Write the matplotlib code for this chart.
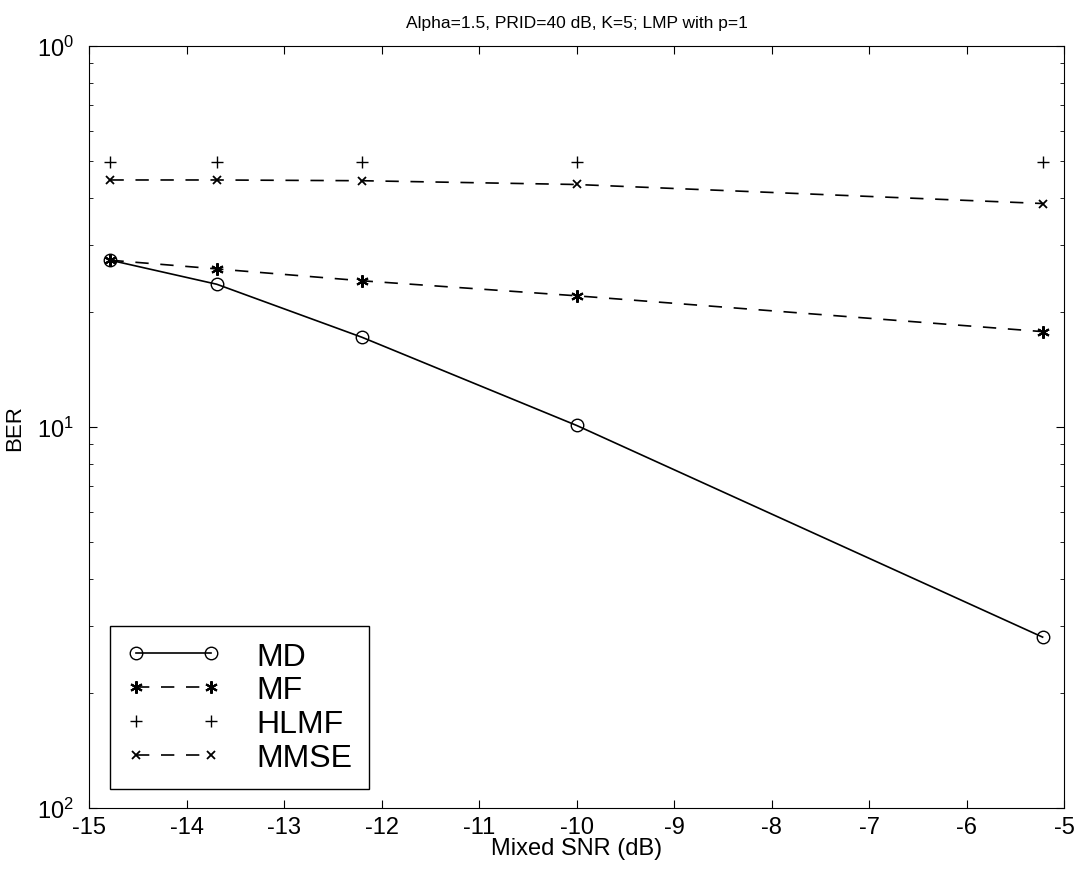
import numpy as np
import matplotlib.pyplot as plt

plt.rcParams['font.family'] = ['Liberation Sans', 'DejaVu Sans']
plt.rcParams['mathtext.default'] = 'regular'

# mixed SNR (dB)
snr = [-14.78, -13.69, -12.2, -10.0, -5.22]

ber_md = [0.274, 0.237, 0.172, 0.101, 0.0281]
ber_mf = [0.274, 0.260, 0.242, 0.221, 0.178]
ber_hlmf = [0.497, 0.497, 0.497, 0.497, 0.497]
ber_mmse = [0.445, 0.445, 0.443, 0.433, 0.386]

yticks = [1e-2, 1e-1, 1e0]
yticklabels = ['10$^{2}$', '10$^{1}$', '10$^{0}$']
xticks = [-15, -14, -13, -12, -11, -10, -9, -8, -7, -6, -5]

fig = plt.figure(figsize=(10.75, 8.7), dpi=100)
ax = fig.add_axes([0.0828, 0.070, 0.9070, 0.876])

ax.semilogy(snr, ber_md, 'k-', marker='o', mfc='none', ms=9, lw=1.2, label='MD')
ax.semilogy(snr, ber_mf, 'k--', marker=(6, 2, 0), ms=9, mew=1.5, lw=1.2,
            dashes=(8, 7), label='MF')
ax.semilogy(snr, ber_hlmf, 'k', ls='none', marker='+', ms=8, label='HLMF')
ax.semilogy(snr, ber_mmse, 'k--', marker='x', ms=6, mew=1.3, lw=1.2,
            dashes=(8, 7), label='MMSE')

ax.set_xlim(-15, -5)
ax.set_ylim(1e-2, 1e0)
ax.set_xticks(xticks)
ax.set_xticklabels([str(t) for t in xticks])
ax.set_yticks(yticks)
ax.set_yticklabels(yticklabels)
ax.tick_params(axis='both', which='both', direction='in', top=True, right=True,
               labelsize=17)
ax.tick_params(which='major', length=6)
ax.tick_params(which='minor', length=3)
ax.tick_params(axis='x', which='major', pad=6)
ax.tick_params(axis='y', which='major', pad=11)

ax.set_title('Alpha=1.5, PRID=40 dB, K=5; LMP with p=1', fontsize=12.5, pad=14)
ax.set_xlabel('Mixed SNR (dB)', fontsize=17, labelpad=-1)
ax.set_ylabel('BER', fontsize=16)
ax.yaxis.set_label_coords(-0.066, 0.5)

leg = ax.legend(loc='lower left', bbox_to_anchor=(0.022, 0.025), fontsize=23,
                numpoints=2, labelspacing=0.12, handlelength=2.95,
                handletextpad=1.13, borderpad=0.5, borderaxespad=0,
                fancybox=False, framealpha=1, edgecolor='black')
leg.get_frame().set_linewidth(1.0)

fig.savefig('out.png', dpi=100)
